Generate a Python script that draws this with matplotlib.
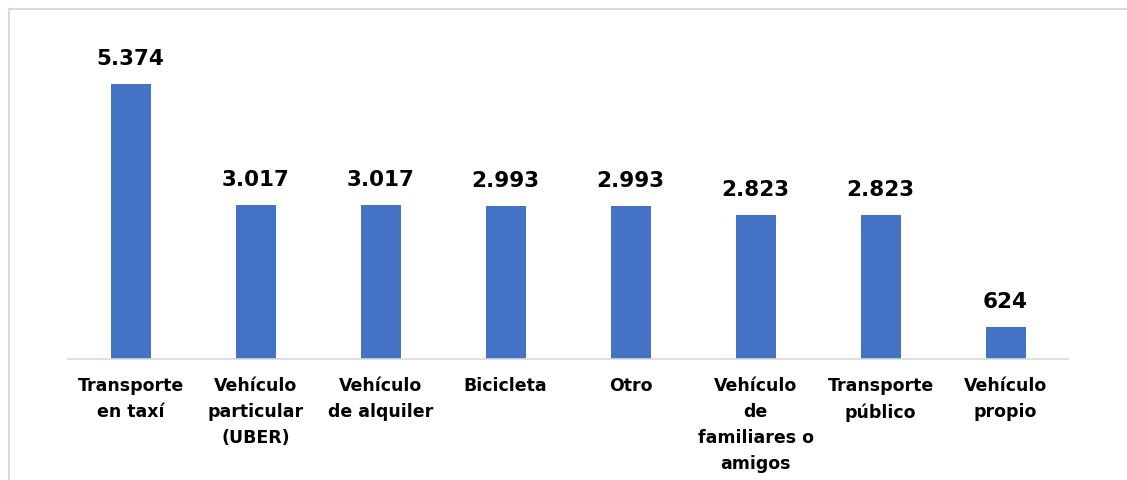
import matplotlib

matplotlib.use("Agg")
import matplotlib.pyplot as plt
from matplotlib.lines import Line2D

categories = [
    "Transporte\nen taxí",
    "Vehículo\nparticular\n(UBER)",
    "Vehículo\nde alquiler",
    "Bicicleta",
    "Otro",
    "Vehículo\nde\nfamiliares o\namigos",
    "Transporte\npúblico",
    "Vehículo\npropio",
]
values = [5374, 3017, 3017, 2993, 2993, 2823, 2823, 624]
value_labels = ["5.374", "3.017", "3.017", "2.993", "2.993", "2.823", "2.823", "624"]

plt.rcParams["font.family"] = ["DejaVu Sans"]

fig = plt.figure(figsize=(11.27, 4.8), dpi=100)
ax = fig.add_axes([68 / 1127, 121 / 480, 1000 / 1127, 329 / 480])

x = range(len(values))
ax.bar(x, values, width=0.32, color="#4472C4")
ax.set_xlim(-0.5, len(values) - 0.5)
ax.set_ylim(0, 329 / (275 / 5374))

for i, (v, lab) in enumerate(zip(values, value_labels)):
    ax.annotate(lab, (i, v), xytext=(0, 15), textcoords="offset pixels",
                ha="center", va="bottom", fontsize=15.5, fontweight="bold", color="black")

for i, cat in enumerate(categories):
    ax.text(i, -0.055, cat, transform=ax.get_xaxis_transform(), ha="center", va="top",
            fontsize=12.5, fontweight="bold", linespacing=1.56, color="black")

for side in ["top", "right", "left"]:
    ax.spines[side].set_visible(False)
ax.spines["bottom"].set_color("#D9D9D9")
ax.spines["bottom"].set_linewidth(1.2)
ax.set_xticks([])
ax.set_yticks([])

# outer chart frame (left and top edges visible)
fig.add_artist(Line2D([9 / 1127, 9 / 1127], [0, 1 - 9 / 480], color="#D9D9D9", lw=1.5))
fig.add_artist(Line2D([9 / 1127, 1], [1 - 9 / 480, 1 - 9 / 480], color="#D9D9D9", lw=1.5))

fig.savefig("out.png", dpi=100, facecolor="white")
